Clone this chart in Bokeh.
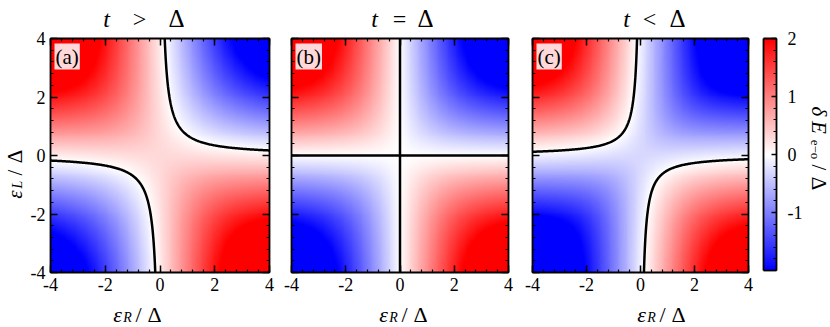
import numpy as np
from bokeh.plotting import figure
from bokeh.models import LinearColorMapper, Range1d, FixedTicker, LinearAxis, Label
from bokeh.layouts import row
from bokeh.embed import file_html
from bokeh.resources import INLINE

# ---------------- data ----------------
eps_ticks = [-4, -2, 0, 2, 4]          # eps_R/Delta and eps_L/Delta tick values
eps_tick_labels = ["-4", "-2", "0", "2", "4"]
eps_lo, eps_hi = -4, 4
delta = 1.0                            # Delta (energy unit)
hopping = [1.3, 1.0, 0.7]              # t/Delta in panels (a), (b), (c)
title_rel = [">", "=", "<"]            # relation t ? Delta
panel_tags = ["(a)", "(b)", "(c)"]
cbar_lo, cbar_hi = -2, 2
cbar_ticks = [-1, 0, 1, 2]
cbar_tick_labels = ["-1", "0", "1", "2"]

FONT = "Liberation Serif"

# bwr palette
def bwr(n=256):
    pal = []
    for i in range(n):
        f = i / (n - 1)
        if f < 0.5:
            g = f / 0.5
            r, gg, b = g, g, 1.0
        else:
            g = (1 - f) / 0.5
            r, gg, b = 1.0, g, g
        pal.append("#%02x%02x%02x" % (round(r * 255), round(gg * 255), round(b * 255)))
    return pal

mapper = LinearColorMapper(palette=bwr(), low=cbar_lo, high=cbar_hi)

# model grid: delta E_(e-o) = E_even - E_odd
eps = np.linspace(eps_lo, eps_hi, 240)
EL = eps[:, None]
ER = eps[None, :]

def dE(t):
    return np.sqrt(((EL - ER) / 2) ** 2 + t ** 2) - np.sqrt(((EL + ER) / 2) ** 2 + delta ** 2)

minor = list(np.round(np.arange(eps_lo, eps_hi + 0.01, 0.4), 2))

# ---------------- layout (page pixel coords) ----------------
H = 327
PAGE_TOP, PAGE_BOTTOM = 0, H
fig_x = [(0, 280), (280, 520), (520, 755)]
heat_x = [(50, 269), (291, 508), (532, 748)]
heat_y = (38, 272)
title_x = [(106, 139, 176), (374, 399, 425), (626, 649, 677)]
xlab_x = [117, 383, 641]


def ranges(f0, f1, h0, h1, lo, hi, flip=False):
    s = (h1 - h0) / (hi - lo)
    if not flip:
        return Range1d(lo - (h0 - f0) / s, hi + (f1 - h1) / s)
    return Range1d(lo - (f1 - h1) / s, hi + (h0 - f0) / s)


def put(p, text, X, Y, fl, size, style="normal", angle=0.0, align="center", baseline="alphabetic", **kw):
    p.add_layout(Label(x=X - fl, y=PAGE_BOTTOM - Y, x_units="screen", y_units="screen", text=text,
                       text_font=FONT, text_font_size=f"{size}px", text_font_style=style,
                       text_align=align, text_baseline=baseline, angle=angle,
                       text_color="black", **kw))


def axis(loc, bounds, ticks, labels, minor_ticks, show_labels, tick_in=7, minor_in=3):
    ax = LinearAxis(fixed_location=loc, bounds=bounds,
                    ticker=FixedTicker(ticks=ticks, minor_ticks=minor_ticks))
    ax.major_tick_in = tick_in
    ax.major_tick_out = 0
    ax.minor_tick_in = minor_in
    ax.minor_tick_out = 0
    ax.major_tick_line_color = "black"
    ax.minor_tick_line_color = "black"
    ax.major_tick_line_width = 1.5
    ax.minor_tick_line_width = 1.2
    ax.axis_line_color = "black"
    ax.axis_line_width = 1.8
    ax.major_label_text_font = FONT
    ax.major_label_text_font_size = "18px"
    ax.major_label_text_color = "black" if show_labels else None
    ax.major_label_standoff = 5
    if show_labels:
        ax.major_label_overrides = {t: l for t, l in zip(ticks, labels)}
    return ax


figs = []
for k in range(3):
    f0, f1 = fig_x[k]
    h0, h1 = heat_x[k]
    p = figure(width=f1 - f0, height=H, min_border=0,
               x_range=ranges(f0, f1, h0, h1, eps_lo, eps_hi),
               y_range=ranges(PAGE_TOP, PAGE_BOTTOM, heat_y[0], heat_y[1], eps_lo, eps_hi, flip=True),
               x_axis_location=None, y_axis_location=None,
               output_backend="svg", toolbar_location=None,
               background_fill_color="white", border_fill_color="white")
    p.grid.visible = False
    p.outline_line_color = None
    z = dE(hopping[k])
    p.image(image=[z], x=eps_lo, y=eps_lo, dw=eps_hi - eps_lo, dh=eps_hi - eps_lo, color_mapper=mapper)
    p.contour(x=eps, y=eps, z=z, levels=[0.0], line_color="black", line_width=2.5)

    b = (eps_lo, eps_hi)
    p.add_layout(axis(eps_lo, b, eps_ticks, eps_tick_labels, minor, True), "below")
    p.add_layout(axis(eps_hi, b, eps_ticks, eps_tick_labels, minor, False), "above")
    p.add_layout(axis(eps_lo, b, eps_ticks, eps_tick_labels, minor, k == 0), "left")
    p.add_layout(axis(eps_hi, b, eps_ticks, eps_tick_labels, minor, False), "right")

    # title  t ? Δ
    tx = title_x[k]
    put(p, "t", tx[0], 18, f0, 24, "italic")
    put(p, title_rel[k], tx[1], 18, f0, 24)
    put(p, "Δ", tx[2], 18, f0, 25)
    # x label  ε_R/Δ
    x0 = xlab_x[k]
    put(p, "ε", x0, 314, f0, 22, "italic")
    put(p, "R", x0 + 10, 317, f0, 14, "italic")
    put(p, "/", x0 + 21, 314, f0, 22)
    put(p, "Δ", x0 + 37, 314, f0, 22)
    # panel tag
    put(p, panel_tags[k], h0 + 4, 43, f0, 21, align="left", baseline="top",
        background_fill_color="white", background_fill_alpha=0.85, padding=1)
    figs.append(p)

# y label  ε_L/Δ on panel (a)
pa = figs[0]
f0 = fig_x[0][0]
put(pa, "ε", 14, 194, f0, 21, "italic", angle=np.pi / 2)
put(pa, "L", 17, 184, f0, 14, "italic", angle=np.pi / 2)
put(pa, "/", 14, 172, f0, 21, angle=np.pi / 2)
put(pa, "Δ", 14, 156, f0, 21, angle=np.pi / 2)

# ---------------- colour bar ----------------
cf0, cf1 = 755, 829
ch0, ch1 = 763, 776
cy0, cy1 = 38, 270
cb = figure(width=cf1 - cf0, height=H, min_border=0,
            x_range=ranges(cf0, cf1, ch0, ch1, 0, 1),
            y_range=ranges(PAGE_TOP, PAGE_BOTTOM, cy0, cy1, cbar_lo, cbar_hi, flip=True),
            x_axis_location=None, y_axis_location=None,
            output_backend="svg", toolbar_location=None,
            background_fill_color="white", border_fill_color="white")
cb.grid.visible = False
cb.outline_line_color = None
grad = np.linspace(cbar_lo, cbar_hi, 256).reshape(256, 1)
cb.image(image=[grad], x=0, y=cbar_lo, dw=1, dh=cbar_hi - cbar_lo, color_mapper=mapper)
cminor = list(np.round(np.arange(cbar_lo, cbar_hi + 0.01, 0.2), 2))
cb.add_layout(axis(1, (cbar_lo, cbar_hi), cbar_ticks, cbar_tick_labels, cminor, True, tick_in=5, minor_in=3), "right")
cb.yaxis[0].major_label_standoff = 11
cb.add_layout(axis(0, (cbar_lo, cbar_hi), [], [], [], False), "left")
cb.add_layout(axis(cbar_lo, (0, 1), [], [], [], False), "below")
cb.add_layout(axis(cbar_hi, (0, 1), [], [], [], False), "above")

ang = -np.pi / 2
put(cb, "δ", 818, 111, cf0, 21, "italic", angle=ang)
put(cb, "E", 818, 127, cf0, 21, "italic", angle=ang)
put(cb, "e−o", 815, 149, cf0, 13, angle=ang)
put(cb, "/", 818, 167, cf0, 21, angle=ang)
put(cb, "Δ", 818, 183, cf0, 21, angle=ang)

layout = row(figs[0], figs[1], figs[2], cb)
open("out.html", "w").write(file_html(layout, INLINE))
